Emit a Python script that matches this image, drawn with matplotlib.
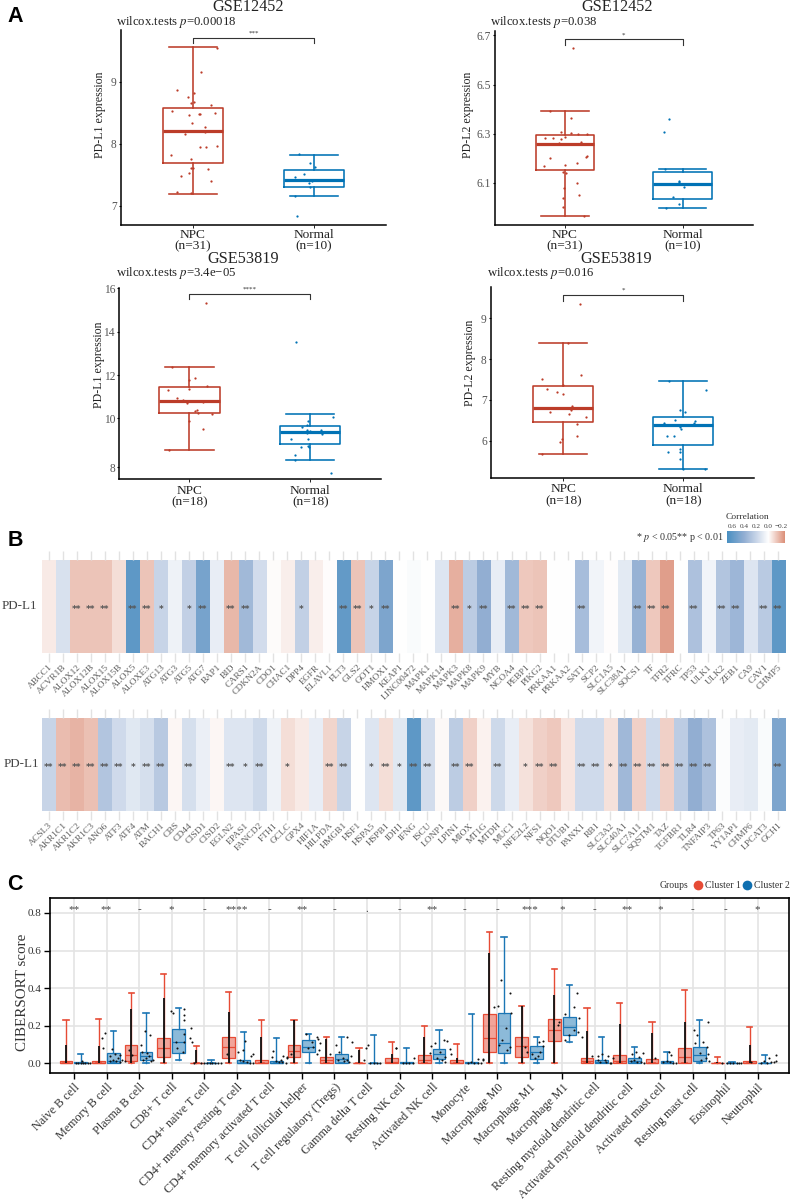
#!/usr/bin/env python3
"""Expression boxplots, correlation strips and CIBERSORT boxplots (panels A, B, C)."""

import numpy as np
import matplotlib
matplotlib.use("Agg")
import matplotlib.pyplot as plt
from matplotlib.colors import LinearSegmentedColormap, TwoSlopeNorm
from matplotlib.lines import Line2D

plt.rcParams["font.family"] = ["Liberation Serif", "DejaVu Serif"]
plt.rcParams["mathtext.fontset"] = "stix"

W, H = 792, 1202
NPC_RED = "#BC3C29"
NORMAL_BLUE = "#0072B5"
TICK_GREY = "#555555"

# ---- panel A: whislo, q1, median, q3, whishi, then jitter offset / value of the dots
A1_NPC_BOX = [7.19, 7.68, 8.21, 8.57, 9.56]
A1_NOR_BOX = [7.15, 7.30, 7.42, 7.58, 7.82]
A1_NPC_OFF = [.07, -.13, -.04, .01, -.02, .01, .15, -.17, .18, -.03, .05, .06, -.01, .10, .10,
              -.07, .06, .11, .20, -.18, -.02, -.02, .0, .12, -.03, -.10, .15, -.13, -.02, .20]
A1_NPC_VAL = [9.16, 8.87, 8.76, 8.81, 8.66, 8.67, 8.63, 8.52, 8.50, 8.47, 8.48, 8.48, 8.33, 8.27, 8.19,
              8.16, 7.94, 7.95, 7.97, 7.82, 7.76, 7.61, 7.60, 7.59, 7.52, 7.48, 7.40, 7.22, 7.20, 9.55]
A1_NOR_OFF = [-.03, .01, -.08, -.16, -.02, -.04, -.03, -.16, -.12, -.14]
A1_NOR_VAL = [7.68, 7.62, 7.51, 7.46, 7.40, 7.37, 7.30, 7.16, 7.83, 6.83]

A2_NPC_BOX = [5.965, 6.154, 6.257, 6.296, 6.392]
A2_NOR_BOX = [5.997, 6.035, 6.096, 6.145, 6.157]
A2_NPC_OFF = [.07, .05, -.13, -.03, .05, .11, .19, 0, -.17, -.10, -.03, -.05, .14, -.13,
              .18, .19, -.18, 0, .10, -.02, .01, .10, -.01, .12, -.02, -.02, .16]
A2_NPC_VAL = [6.649, 6.362, 6.392, 6.305, 6.301, 6.30, 6.30, 6.285, 6.281, 6.282, 6.28, 6.26, 6.265, 6.20,
              6.203, 6.207, 6.168, 6.173, 6.182, 6.142, 6.138, 6.097, 6.08, 6.049, 6.038, 6.001, 5.965]
A2_NOR_OFF = [-.12, -.16, -.15, -.03, .01, -.08, -.03, -.14, -.03]
A2_NOR_VAL = [6.358, 6.305, 6.155, 6.107, 6.082, 6.04, 6.015, 5.997, 6.105]

A3_NPC_BOX = [8.71, 10.26, 10.78, 11.43, 12.35]
A3_NOR_BOX = [8.30, 8.94, 9.44, 9.70, 10.20]
A3_NPC_OFF = [.14, .05, 0, -.14, .15, 0, -.18, -.10, -.05, -.02, .11, .06, .05, .07, .19, 0, .11, -.17]
A3_NPC_VAL = [15.34, 11.86, 11.75, 12.35, 11.48, 11.37, 11.29, 10.94, 10.85, 10.72, 10.74,
              10.38, 10.32, 10.23, 10.22, 9.90, 9.55, 8.71]
A3_NOR_OFF = [-.12, .19, -.02, -.07, -.03, -.03, 0, .09, .10, -.03, -.16, -.02, -.08, -.02, -.13, -.13, .17, -.01]
A3_NOR_VAL = [13.52, 10.05, 9.90, 9.63, 9.71, 9.51, 9.47, 9.51, 9.36, 9.39, 9.14, 9.17, 8.84, 8.87,
              8.49, 8.30, 7.77, 8.84]

A4_NPC_BOX = [5.67, 6.45, 6.80, 7.35, 8.39]
A4_NOR_BOX = [5.30, 5.89, 6.38, 6.58, 7.45]
A4_NPC_OFF = [.14, .04, .15, -.18, 0, -.14, -.05, 0, .07, .06, -.11, .05, .19, .11, .11, -.01, -.03, -.18]
A4_NPC_VAL = [9.35, 8.39, 7.61, 7.50, 7.37, 7.26, 7.19, 7.14, 6.85, 6.75, 6.70, 6.65, 6.58, 6.41, 6.11,
              6.05, 5.96, 5.67]
A4_NOR_OFF = [-.12, .19, -.03, .01, -.07, -.16, .10, .09, -.03, -.02, -.14, -.08, -.03, -.03, -.13, -.03, .18, 0]
A4_NOR_VAL = [7.45, 7.23, 6.74, 6.69, 6.50, 6.43, 6.47, 6.43, 6.34, 6.29, 6.12, 6.12, 5.80, 5.72, 5.71,
              5.54, 5.30, 5.30]

A_GROUPS_31 = ["NPC\n(n=31)", "Normal\n(n=10)"]
A_GROUPS_18 = ["NPC\n(n=18)", "Normal\n(n=18)"]

# ---- panel B: correlation of PD-L1 with each gene, and its significance stars
B1_GENES = ["ABCC1", "ACVR1B", "ALOX12", "ALOX12B", "ALOX15", "ALOX15B", "ALOX5", "ALOXE3", "ATG13", "ATG3",
            "ATG5", "ATG7", "BAP1", "BID", "CARS1", "CDKN2A", "CDO1", "CHAC1", "DPP4", "EGFR", "ELAVL1",
            "FLT3", "GLS2", "GOT1", "HMOX1", "KEAP1", "LINC00472", "MAPK1", "MAPK14", "MAPK3", "MAPK8",
            "MAPK9", "MYB", "NCOA4", "PEBP1", "PIKG2", "PRKAA1", "PRKAA2", "SAT1", "SCP2", "SLC1A5",
            "SLC38A1", "SOCS1", "TF", "TFR2", "TFRC", "TP53", "ULK1", "ULK2", "ZEB1", "CA9", "CAV1", "CHMP5"]
B1_CORR = [-.05, .14, -.14, -.14, -.14, -.08, .60, -.14, .20, .06, .22, .50, .08, -.17, .34, .16, -.01, -.04,
           .22, -.04, -.005, .58, -.14, .20, .48, 0, .02, 0, .12, -.19, .24, .40, .08, .34, -.13, -.14, 0, 0,
           .32, .05, -.005, .10, .38, -.13, -.23, 0, .30, .05, .28, .36, .12, .25, .60]
B1_STARS = ["", "", "**", "**", "**", "", "**", "**", "*", "", "*", "**", "", "**", "**", "", "", "", "*", "", "",
            "**", "**", "*", "**", "", "", "", "", "**", "*", "**", "", "**", "**", "**", "", "", "**", "", "",
            "", "**", "**", "**", "", "**", "", "**", "**", "", "**", "**"]

B2_GENES = ["ACSL3", "AKR1C1", "AKR1C2", "AKR1C3", "ANO6", "ATF3", "ATF4", "ATM", "BACH1", "CBS", "CD44", "CISD1",
            "CISD2", "EGLN2", "EPAS1", "FANCD2", "FTH1", "GCLC", "GPX4", "HIF1A", "HILPDA", "HMGB1", "HSF1",
            "HSPA5", "HSPB1", "IDH1", "IFNG", "ISCU", "LONP1", "LPIN1", "MIOX", "MT1G", "MTDH", "MUC1", "NFE2L2",
            "NFS1", "NQO1", "OTUB1", "PANX1", "RB1", "SLC3A2", "SLC40A1", "SLC7A11", "SQSTM1", "TAZ", "TGFBR1",
            "TLR4", "TNFAIP3", "TP63", "YY1AP1", "CHMP6", "LPCAT3", "GCH1"]
B2_CORR = [.20, -.16, -.18, -.15, .28, .17, .11, .15, .26, -.02, .15, .07, -.02, .12, .12, .18, .06, -.08, -.05,
           .08, -.10, .20, 0, .12, -.08, .11, .60, .16, -.015, .24, -.11, -.03, .18, .08, -.07, -.11, -.13, -.06,
           .17, .17, -.07, .35, -.11, .17, -.11, .24, .40, .30, .015, .08, .10, .02, .48]
B2_STARS = ["**", "**", "**", "**", "**", "**", "*", "**", "**", "", "**", "", "", "**", "*", "**", "", "*", "", "",
            "**", "**", "", "*", "**", "*", "**", "**", "", "**", "**", "", "**", "", "*", "**", "**", "", "**",
            "**", "*", "**", "**", "**", "**", "**", "**", "**", "", "", "", "", "**"]
CBAR_TICKS = [.6, .4, .2, 0, -.2]
CBAR_LOW, CBAR_HIGH = -.27, .68

# ---- panel C: CIBERSORT fractions per cell type
CELLS = ["Naive B cell", "Memory B cell", "Plasma B cell", "CD8+ T cell", "CD4+ naive T cell",
         "CD4+ memory resting T cell", "CD4+ memory activated T cell", "T cell follicular helper",
         "T cell regulatory (Tregs)", "Gamma delta T cell", "Resting NK cell", "Activated NK cell", "Monocyte",
         "Macrophage M0", "Macrophage M1", "Macrophage M1", "Resting myeloid dendritic cell",
         "Activated myeloid dendritic cell", "Activated mast cell", "Resting mast cell", "Eosinophil", "Neutrophil"]
C_SIG = ["**", "**", "-", "*", "-", "****", "-", "**", "-", ".", "-", "**", "-", "-", "***", "*", "-", "**", "*",
         "-", "-", "*"]
C_YTICKS = [0.0, 0.2, 0.4, 0.6, 0.8]
C1_LOW = [0, 0, 0, 0, 0, 0, 0, 0, 0, 0, 0, 0, 0, 0, 0, 0, 0, 0, 0, 0, 0, 0]
C1_Q1 = [0, 0, .014, .032, 0, .027, 0, .032, .002, 0, 0, 0, 0, .058, .035, .119, 0, 0, 0, 0, 0, 0]
C1_MED = [.002, .002, .044, .08, .001, .085, .002, .067, .018, .001, .005, .02, .003, .137, .092, .177, .012, .01,
          .003, .032, .001, .003]
C1_Q3 = [.012, .01, .098, .133, .002, .142, .018, .096, .035, .003, .028, .046, .018, .264, .142, .234, .027, .044,
         .025, .082, .003, .014]
C1_HIGH = [.23, .235, .375, .475, .094, .38, .232, .23, .14, .08, .112, .197, .103, .70, .303, .50, .293, .323,
           .218, .392, .035, .193]
C1_STEM = [.10, .09, .29, .345, .07, .275, .14, .23, .13, .07, .05, .14, .03, .585, .303, .363, .17, .21, .16, .22,
           .005, .10]
C2_LOW = [0, 0, 0, .018, 0, 0, 0, .004, 0, 0, 0, 0, 0, 0, 0, .113, 0, 0, 0, 0, 0, 0]
C2_Q1 = [0, .003, .018, .057, 0, 0, .001, .062, .004, 0, .001, .023, .001, .057, .021, .149, 0, 0, 0, .012, 0, 0]
C2_MED = [.002, .012, .039, .115, .001, .003, .003, .089, .025, .001, .003, .05, .003, .106, .062, .195, .005, .01,
          .003, .044, .001, .001]
C2_Q3 = [.005, .053, .062, .183, .004, .018, .012, .122, .048, .002, .008, .076, .008, .268, .094, .245, .02, .03,
         .012, .085, .002, .004]
C2_HIGH = [.05, .17, .266, .296, .018, .165, .133, .158, .142, .149, .083, .175, .262, .674, .142, .417, .138, .089,
           .058, .232, .007, .044]
C_DOT_OFF = [
    [.05, .12, .2, .28, .35, .42, .5, .25],
    [-.05, -.15, -.1, .1, .2, .25, .3, .35, .4, .12, .42, .18],
    [.18, .05, .34, -.53, .1, .2, .3, .38, .12, .25, .42, -.42, -.3, -.22],
    [-.02, .05, .39, .39, .39, .56, .63, .39, .13, .38, .15, .34, .6],
    [-.1, 0, .1, .18, .25, .33, .42, .5, -.3],
    [.05, .2, .43, .5, .25, .1, .2, .3, .4, .5, -.3],
    [.12, .07, .43, .2, .3, .35, .4, .5, .55],
    [.14, .45, .5, .57, .53, .45, .3, .19, .35, -.45, -.35],
    [.37, .55, .06, .15, .25, .3, .4, .45, .52, .1, -.15],
    [.04, -.03, .1, .2, .3, .4, -.1],
    [-.12, -.1, .44, .1, .2, .3, .4],
    [-.02, .1, .36, .47, .56, .57, -.08, .41, .25, .15, .3, .4],
    [.41, .55, .1, .2, .3, .4, .5, .55],
    [.01, -.11, .11, .4, .42, .28, .4, .3, .06, .14],
    [-.14, -.09, .29, .42, .32, .06, .25, .16, .42],
    [-.11, -.13, .09, .35, .45, .5, .48, .6, .35, .09, .19],
    [-.08, .08, .23, .41, .1, .3, .15, .35, .45, .5],
    [.27, .49, .15, .34, .1, .2, .3, .4, .5, -.45],
    [.26, .34, .1, .2, .3, .4, .5, -.15],
    [.48, .05, .12, .31, .43, .48, .07, .22, .5, .25, .4],
    [-.1, .05, .15, .25, .35, .42, .5],
    [.56, .35, .1, .2, .3, .4, .5, .55, -.2],
]
C_DOT_VAL = [
    [.003, .002, .004, .002, .002, .002, .002, .012],
    [.16, .133, .08, .04, .02, .05, .01, .03, .045, .01, .005, .075],
    [.17, .1, .15, .02, .06, .03, .04, .01, .015, .055, .02, .01, .07, .045],
    [.28, .27, .287, .255, .23, .135, .113, .154, .115, .115, .08, .06, .19],
    [.002, .003, .002, .002, .003, .002, .003, .002, .003],
    [.06, .07, .04, .05, .12, .015, .01, .005, .003, .003, .05],
    [.065, .035, .04, .01, .006, .02, .005, .003, .03],
    [.156, .142, .128, .106, .07, .05, .115, .08, .089, .035, .05],
    [.142, .115, .1, .06, .03, .01, .02, .005, .04, .02, .05],
    [.098, .08, .004, .003, .002, .003, .02],
    [.082, .08, .03, .004, .003, .002, .002],
    [.09, .11, .124, .119, .076, .05, .057, .032, .06, .03, .02, .005],
    [.023, .023, .003, .005, .003, .002, .002, .02],
    [.307, .298, .443, .372, .266, .186, .089, .07, .097, .124],
    [.089, .062, .112, .119, .062, .05, .04, .027, .09],
    [.222, .204, .262, .30, .376, .24, .168, .142, .177, .124, .15],
    [.04, .04, .048, .04, .02, .018, .005, .005, .003, .003],
    [.062, .053, .05, .035, .01, .015, .008, .005, .004, .03],
    [.062, .044, .005, .01, .006, .004, .003, .03],
    [.22, .177, .15, .115, .089, .05, .106, .053, .01, .02, .03],
    [.003, .002, .002, .003, .002, .003, .002],
    [.044, .027, .004, .01, .003, .006, .008, .01, .005],
]

RED_C = "#E64B35"
BLUE_C = "#1B76B5"


def ax_at(fig, left, top, right, bottom):
    # axes placed by its pixel edges in the 792x1202 canvas
    return fig.add_axes([left / W, 1 - bottom / H, (right - left) / W, (bottom - top) / H])


def px_text(fig, x, y, s, **kw):
    kw.setdefault("va", "center")
    return fig.text(x / W, 1 - y / H, s, **kw)


def five(vals):
    return dict(whislo=vals[0], q1=vals[1], med=vals[2], q3=vals[3], whishi=vals[4], fliers=[])


def expr_panel(ax, boxes, dots, ylim, xlim, yticks, groups, bracket, stars, star_y, pad=1.0, spacing=0.86):
    for i, (box, color) in enumerate(zip(boxes, (NPC_RED, NORMAL_BLUE))):
        ax.bxp([five(box)], positions=[i], widths=0.5, capwidths=0.4, showfliers=False, manage_ticks=False,
               boxprops=dict(color=color, lw=1.15), whiskerprops=dict(color=color, lw=1.15),
               capprops=dict(color=color, lw=1.15), medianprops=dict(color=color, lw=2.3, solid_capstyle="butt"))
        off, val = dots[i]
        ax.scatter(i + np.asarray(off), val, s=2.6, color=color, linewidths=0, zorder=4)
    ax.plot([0, 0, 1, 1], [bracket[1], bracket[0], bracket[0], bracket[1]], color="#333333", lw=0.8)
    ax.text(0.5, star_y, stars, ha="center", va="center", fontsize=5, color="#333333")
    ax.set_xlim(*xlim)
    ax.set_ylim(*ylim)
    ax.set_xticks([0, 1])
    ax.set_xticklabels(groups, fontsize=9.6, linespacing=spacing, color="#222222")
    ax.set_yticks(yticks)
    ax.set_yticklabels([str(t) for t in yticks], fontsize=8.3, color=TICK_GREY)
    ax.tick_params(axis="x", length=2, width=0.6, pad=pad)
    ax.tick_params(axis="y", length=1.5, width=0.8, pad=1.5)
    for s in ("top", "right"):
        ax.spines[s].set_visible(False)
    for s in ("left", "bottom"):
        ax.spines[s].set_linewidth(1.1)


def heat_panel(fig, top, bottom, genes, corr, stars, cmap, norm):
    ax = ax_at(fig, 41.7, top, 785, bottom)
    ax.imshow(np.asarray(corr)[None, :], cmap=cmap, norm=norm, aspect="auto", interpolation="nearest")
    ax.set_yticks([])
    ax.set_xticks(range(len(genes)))
    ax.set_xticklabels(genes, rotation=45, ha="right", va="top", rotation_mode="anchor",
                       fontsize=6.8, color="#5e5e5e")
    ax.tick_params(axis="x", which="both", top=True, bottom=True, length=6.5, width=1, color="#e2e2e2", pad=1)
    for s in ax.spines.values():
        s.set_visible(False)
    for i, mark in enumerate(stars):
        if mark:
            ax.text(i, 0.03, mark, ha="center", va="center", fontsize=6.4, fontweight="bold",
                    color="#555555", family="DejaVu Sans")
    return ax


def main():
    fig = plt.figure(figsize=(W / 100, H / 100), dpi=100, facecolor="white")

    # ---- A
    ax = ax_at(fig, 121, 30, 386, 225)
    expr_panel(ax, [A1_NPC_BOX, A1_NOR_BOX], [(A1_NPC_OFF, A1_NPC_VAL), (A1_NOR_OFF, A1_NOR_VAL)],
               (6.688, 9.833), (-.595, 1.595), [7, 8, 9], A_GROUPS_31, (9.70, 9.62), "***", 9.79)
    ax = ax_at(fig, 494.7, 31, 752.7, 225)
    expr_panel(ax, [A2_NPC_BOX, A2_NOR_BOX], [(A2_NPC_OFF, A2_NPC_VAL), (A2_NOR_OFF, A2_NOR_VAL)],
               (5.928, 6.718), (-.597, 1.595), [6.1, 6.3, 6.5, 6.7], A_GROUPS_31, (6.684, 6.662), "*", 6.703)
    ax = ax_at(fig, 119.3, 287.7, 381, 479.3)
    # the left axis of this panel stretches below 10
    ax.set_yscale("function", functions=(lambda v: np.where(np.asarray(v) < 10, 10 - (10 - np.asarray(v)) * 1.13, v),
                                         lambda u: np.where(np.asarray(u) < 10, 10 - (10 - np.asarray(u)) / 1.13, u)))
    expr_panel(ax, [A3_NPC_BOX, A3_NOR_BOX], [(A3_NPC_OFF, A3_NPC_VAL), (A3_NOR_OFF, A3_NOR_VAL)],
               (7.51, 16.03), (-.579, 1.585), [8, 10, 12, 14, 16], A_GROUPS_18, (15.75, 15.49), "****", 15.95,
               pad=2.0, spacing=0.98)
    ax = ax_at(fig, 491, 287.3, 754.3, 477.7)
    expr_panel(ax, [A4_NPC_BOX, A4_NOR_BOX], [(A4_NPC_OFF, A4_NPC_VAL), (A4_NOR_OFF, A4_NOR_VAL)],
               (5.09, 9.76), (-.6025, 1.59), [6, 7, 8, 9], A_GROUPS_18, (9.565, 9.43), "*", 9.68,
               pad=2.0, spacing=0.98)

    for x, y, s in [(248, 7, "GSE12452"), (617, 7, "GSE12452"), (243.3, 258.7, "GSE53819"), (616, 259, "GSE53819")]:
        px_text(fig, x, y, s, ha="center", fontsize=11.7, color="#222222")
    for x, y, s in [(116, 22, "0.00018"), (490, 22, "0.038"), (115.7, 273, "3.4e\u221205"), (486.7, 273, "0.016")]:
        px_text(fig, x, y, "wilcox.tests $\\mathit{p}$=" + s, ha="left", fontsize=9.2, color="#222222")
    for x, y, s in [(100, 115, "PD-L1"), (468, 115, "PD-L2"), (99, 365, "PD-L1"), (470, 363, "PD-L2")]:
        px_text(fig, x, y, s + " expression", ha="center", rotation=90, fontsize=8.6, color="#222222")

    # ---- B
    cmap = LinearSegmentedColormap.from_list(
        "corr", [(0, "#dc8f78"), (.5, "#ffffff"), (.647, "#c8d5e8"), (.794, "#93afd3"), (1, "#4a90c2")])
    norm = TwoSlopeNorm(vcenter=0, vmin=CBAR_LOW, vmax=CBAR_HIGH)
    heat_panel(fig, 560, 652.7, B1_GENES, B1_CORR, B1_STARS, cmap, norm)
    heat_panel(fig, 718.3, 811, B2_GENES, B2_CORR, B2_STARS, cmap, norm)
    px_text(fig, 37, 606, "PD-L1", ha="right", fontsize=9.4, color="#444444")
    px_text(fig, 39.5, 764, "PD-L1", ha="right", fontsize=9.4, color="#444444")

    cax = ax_at(fig, 727, 531, 785, 543)
    cax.imshow(np.linspace(CBAR_HIGH, CBAR_LOW, 256)[None, :], cmap=cmap, norm=norm, aspect="auto",
               extent=(CBAR_HIGH, CBAR_LOW, 0, 1))
    cax.set_yticks([])
    cax.xaxis.tick_top()
    cax.set_xticks(CBAR_TICKS)
    cax.set_xticklabels(["0.6", "0.4", "0.2", "0.0", "\u22120.2"], fontsize=5.2, color="#444444")
    cax.tick_params(axis="x", length=0, pad=1.5)
    for s in cax.spines.values():
        s.set_visible(False)
    px_text(fig, 726, 517, "Correlation", ha="left", fontsize=6.8, color="#333333")
    px_text(fig, 724, 537, "* $\\mathit{p}$ < 0.05** p < 0.01", ha="right", fontsize=7.2, color="#333333")

    # ---- C
    ax = ax_at(fig, 50, 898.3, 789.3, 1072.7)
    ax.set_axisbelow(True)
    ax.grid(True, color="#e4e4e4", lw=1.2)
    pos = np.arange(len(CELLS))
    ax.vlines(pos - .245, 0, C1_STEM, color="#111111", lw=1.3, zorder=3)
    for shift, color, low, q1, med, q3, high in [(-.245, RED_C, C1_LOW, C1_Q1, C1_MED, C1_Q3, C1_HIGH),
                                                 (.21, BLUE_C, C2_LOW, C2_Q1, C2_MED, C2_Q3, C2_HIGH)]:
        stats = [five(v) for v in zip(low, q1, med, q3, high)]
        ax.bxp(stats, positions=pos + shift, widths=.39, capwidths=.16, showfliers=False, manage_ticks=False,
               patch_artist=True, zorder=2,
               boxprops=dict(facecolor=matplotlib.colors.to_rgba(color, .5), edgecolor=color, lw=.9),
               whiskerprops=dict(color=color, lw=1.0), capprops=dict(color=color, lw=1.2),
               medianprops=dict(color=color, lw=.9))
    for i in pos:
        ax.scatter(i + np.asarray(C_DOT_OFF[i]), C_DOT_VAL[i], s=2.2, color="#111111", linewidths=0, zorder=4)
        ax.text(i, .817, C_SIG[i], ha="center", va="center", fontsize=8, color="#444444")
    ax.set_xlim(-.737, 21.97)
    ax.set_ylim(-.05, .878)
    ax.set_yticks(C_YTICKS)
    ax.set_yticklabels([f"{t:.1f}" for t in C_YTICKS], fontsize=8, color="#333333")
    ax.set_xticks(pos)
    ax.set_xticklabels(CELLS, rotation=45, ha="right", va="top", rotation_mode="anchor", fontsize=8.7, color="#333333")
    ax.tick_params(axis="both", length=4, width=1, pad=2)
    for s in ax.spines.values():
        s.set_linewidth(1.2)
    px_text(fig, 23, 992, "CIBERSORT score", ha="center", rotation=90, fontsize=10.8, color="#333333")

    px_text(fig, 660, 885, "Groups", ha="left", fontsize=7, color="#333333")
    px_text(fig, 705, 886, "Cluster 1", ha="left", fontsize=7, color="#333333")
    px_text(fig, 754, 886, "Cluster 2", ha="left", fontsize=7, color="#333333")
    for x, color in [(698.3, RED_C), (747, "#0F6FB0")]:
        fig.add_artist(Line2D([x / W], [1 - 884.5 / H], marker="o", ms=7, color=color, mew=0,
                              transform=fig.transFigure))

    # ---- panel letters
    for y, s in [(16, "A"), (541, "B"), (885, "C")]:
        px_text(fig, 7.5, y, s, ha="left", fontsize=15.5, fontweight="bold", family="Liberation Sans", color="black")

    fig.savefig("out.png", dpi=100, facecolor="white")
    plt.close(fig)


if __name__ == "__main__":
    main()
